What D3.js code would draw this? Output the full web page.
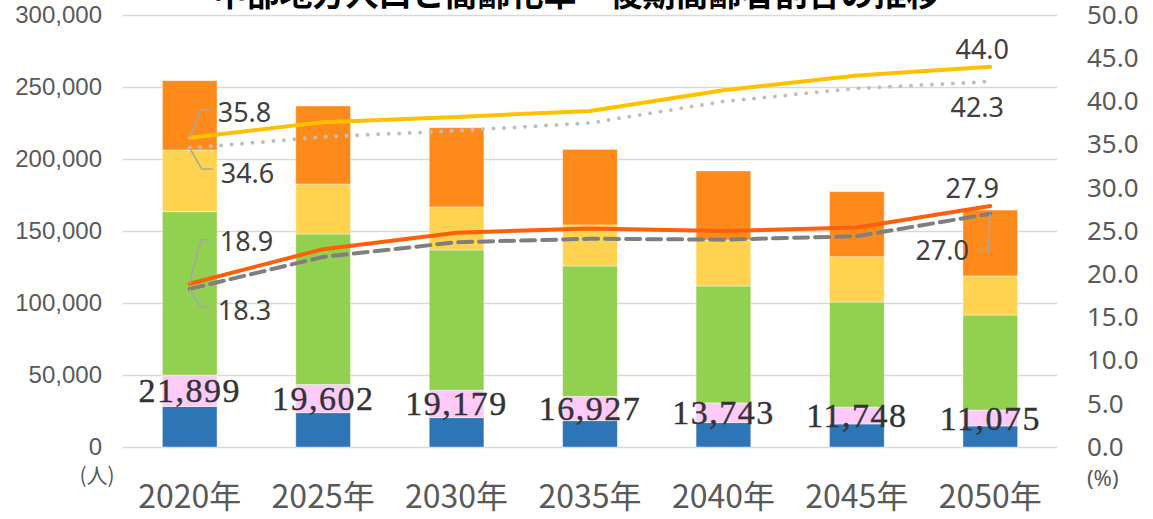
<!DOCTYPE html>
<html>
<head>
<meta charset="utf-8">
<script src="https://cdn.jsdelivr.net/npm/d3@7"></script>
<style>
  body { margin: 0; background: #fff; }
  svg { display: block; }
</style>
</head>
<body>
<div id="chart"></div>
<script>
// data
const years = ['2020年', '2025年', '2030年', '2035年', '2040年', '2045年', '2050年'];
const keys = ['groupA', 'groupB', 'working', 'early', 'late'];
const groupA  = [28100, 23800, 20350, 18270, 16900, 16000, 14600];
const groupB  = [21899, 19602, 19179, 16927, 13743, 11748, 11075];
const working = [113400, 104500, 97270, 90500, 81160, 72950, 66025];
const early   = [42850, 34700, 29900, 28500, 31950, 31450, 27050];
const late    = [48150, 54200, 55050, 52500, 47950, 45150, 45800];

const agingRate     = [35.8, 37.6, 38.2, 38.9, 41.3, 43.0, 44.0];
const agingRateRef  = [34.6, 35.9, 36.6, 37.5, 40.0, 41.5, 42.3];
const lateRate      = [18.9, 22.9, 24.8, 25.3, 25.0, 25.4, 27.9];
const lateRateRef   = [18.3, 22.0, 23.7, 24.1, 24.0, 24.4, 27.0];

const leftTicks = [0, 50000, 100000, 150000, 200000, 250000, 300000];
const rightTicks = [0, 5, 10, 15, 20, 25, 30, 35, 40, 45, 50];

const title = '中部地方人口と高齢化率・後期高齢者割合の推移';

function drawChart() {
  const width = 1153, height = 519;
  const plot = { left: 123, right: 1057, top: 15, bottom: 447 };

  const colors = {
    groupA: '#2e75b6', groupB: '#fdcafa', working: '#92d050',
    early: '#ffd24f', late: '#fe8a1c'
  };

  const svg = d3.select('#chart')
    .append('svg')
    .attr('width', width)
    .attr('height', height);

  const x = d3.scaleBand()
    .domain(years)
    .range([plot.left, plot.right])
    .paddingInner(0.59)
    .paddingOuter(0.295);

  const y = d3.scaleLinear().domain([0, 300000]).range([plot.bottom, plot.top]);
  const y2 = d3.scaleLinear().domain([0, 50]).range([plot.bottom, plot.top]);

  // gridlines + left axis
  const leftAxis = svg.append('g')
    .attr('transform', `translate(${plot.left},0)`)
    .call(d3.axisLeft(y)
      .tickValues(leftTicks)
      .tickFormat(d3.format(','))
      .tickSizeInner(-(plot.right - plot.left))
      .tickSizeOuter(0)
      .tickPadding(21));
  leftAxis.select('.domain').remove();
  leftAxis.selectAll('line').attr('stroke', '#d9d9d9').attr('stroke-width', 1.5);
  leftAxis.selectAll('text')
    .style('font-family', '"Liberation Sans", Arial, sans-serif')
    .style('font-size', '24px')
    .attr('fill', '#595959');

  // right axis
  const rightAxis = svg.append('g')
    .attr('transform', `translate(${plot.right},0)`)
    .call(d3.axisRight(y2)
      .tickValues(rightTicks)
      .tickFormat(d3.format('.1f'))
      .tickSize(0)
      .tickPadding(30));
  rightAxis.select('.domain').remove();
  rightAxis.selectAll('text')
    .style('font-family', '"Noto Sans", sans-serif')
    .style('font-size', '26px')
    .attr('fill', '#595959');

  // stacked bars
  const table = years.map((yr, i) => ({
    year: yr, groupA: groupA[i], groupB: groupB[i], working: working[i],
    early: early[i], late: late[i]
  }));
  const series = d3.stack().keys(keys)(table);

  svg.append('g')
    .selectAll('g')
    .data(series)
    .join('g')
    .attr('fill', d => colors[d.key])
    .selectAll('rect')
    .data(d => d)
    .join('rect')
    .attr('x', d => x(d.data.year))
    .attr('y', d => y(d[1]))
    .attr('width', x.bandwidth())
    .attr('height', d => y(d[0]) - y(d[1]))
    .attr('stroke', '#ffffff')
    .attr('stroke-opacity', 0.5)
    .attr('stroke-width', 0.8);

  // pink segment labels
  svg.append('g')
    .selectAll('text')
    .data(series[1])
    .join('text')
    .attr('x', d => x(d.data.year) + x.bandwidth() / 2)
    .attr('y', d => (y(d[0]) + y(d[1])) / 2)
    .attr('text-anchor', 'middle')
    .attr('dominant-baseline', 'central')
    .style('font-family', '"Liberation Serif", "Times New Roman", serif')
    .style('font-size', '34px')
    .style('letter-spacing', '1.5px')
    .attr('fill', '#333333')
    .attr('stroke', '#333333')
    .attr('stroke-width', 0.4)
    .text(d => d3.format(',')(d.data.groupB));

  // lines
  const cx = i => x(years[i]) + x.bandwidth() / 2;
  const line = d3.line().x((d, i) => cx(i)).y(d => y2(d));

  const lines = [
    { values: agingRateRef, color: '#bfbfbf', width: 4, dash: '0,10.5', cap: 'round' },
    { values: agingRate, color: '#ffc000', width: 4, dash: null, cap: 'round' },
    { values: lateRateRef, color: '#7f7f7f', width: 4, dash: '14,7', cap: 'round' },
    { values: lateRate, color: '#fe5f0a', width: 4, dash: null, cap: 'round' }
  ];

  svg.append('g')
    .selectAll('path')
    .data(lines)
    .join('path')
    .attr('d', d => line(d.values))
    .attr('fill', 'none')
    .attr('stroke', d => d.color)
    .attr('stroke-width', d => d.width)
    .attr('stroke-dasharray', d => d.dash)
    .attr('stroke-linecap', d => d.cap)
    .attr('stroke-linejoin', 'round');

  // data labels on the lines (first and last point)
  const last = years.length - 1;
  const labels = [
    { values: agingRate, i: 0, dx: 28, dy: -26, anchor: 'start', leader: [[11, -28], [21, -28]] },
    { values: agingRateRef, i: 0, dx: 31, dy: 24, anchor: 'start', leader: [[12, 21], [23, 21]] },
    { values: lateRate, i: 0, dx: 30, dy: -43, anchor: 'start', leader: [[11, -44], [21, -44]] },
    { values: lateRateRef, i: 0, dx: 28, dy: 21, anchor: 'start', leader: [[11, 18], [20, 18]] },
    { values: agingRate, i: last, dx: -8, dy: -18, anchor: 'middle' },
    { values: agingRateRef, i: last, dx: -13, dy: 25, anchor: 'middle' },
    { values: lateRate, i: last, dx: -18, dy: -18, anchor: 'middle' },
    { values: lateRateRef, i: last, dx: -48, dy: 36, anchor: 'middle', leader: [[-2, 36], [-12, 36]] }
  ];

  const lab = svg.append('g');
  labels.forEach(l => {
    const px = cx(l.i), py = y2(l.values[l.i]);
    if (l.leader) {
      const pts = [[px, py]].concat(l.leader.map(p => [px + p[0], py + p[1]]));
      lab.append('path')
        .attr('d', d3.line()(pts))
        .attr('fill', 'none')
        .attr('stroke', '#a6a6a6')
        .attr('stroke-width', 1.5);
    }
    lab.append('text')
      .attr('x', px + l.dx)
      .attr('y', py + l.dy)
      .attr('text-anchor', l.anchor)
      .attr('dominant-baseline', 'central')
      .style('font-family', '"Noto Sans", sans-serif')
      .style('font-size', '27px')
      .attr('fill', '#404040')
      .text(d3.format('.1f')(l.values[l.i]));
  });

  // x labels
  svg.append('g')
    .selectAll('text')
    .data(years)
    .join('text')
    .attr('x', d => x(d) + x.bandwidth() / 2)
    .attr('y', 508)
    .attr('text-anchor', 'middle')
    .style('font-family', '"Noto Sans CJK JP", sans-serif')
    .style('font-size', '32px')
    .attr('fill', '#595959')
    .text(d => d);

  // unit labels
  svg.append('text')
    .attr('x', 97).attr('y', 474)
    .attr('text-anchor', 'middle')
    .attr('dominant-baseline', 'central')
    .style('font-family', '"Noto Sans CJK JP", sans-serif')
    .style('font-size', '21px')
    .attr('fill', '#595959')
    .text('(人)');

  svg.append('text')
    .attr('x', 1087).attr('y', 477)
    .attr('dominant-baseline', 'central')
    .style('font-family', '"Noto Sans", sans-serif')
    .style('font-size', '22px')
    .attr('fill', '#595959')
    .text('(%)');

  // title, mostly cut off at the top edge
  svg.append('text')
    .attr('x', width / 2)
    .attr('y', 6)
    .attr('text-anchor', 'middle')
    .style('font-family', '"Noto Sans CJK JP", sans-serif')
    .style('font-size', '33px')
    .style('font-weight', 700)
    .attr('fill', '#000')
    .text(title);
}

drawChart();
</script>
</body>
</html>
